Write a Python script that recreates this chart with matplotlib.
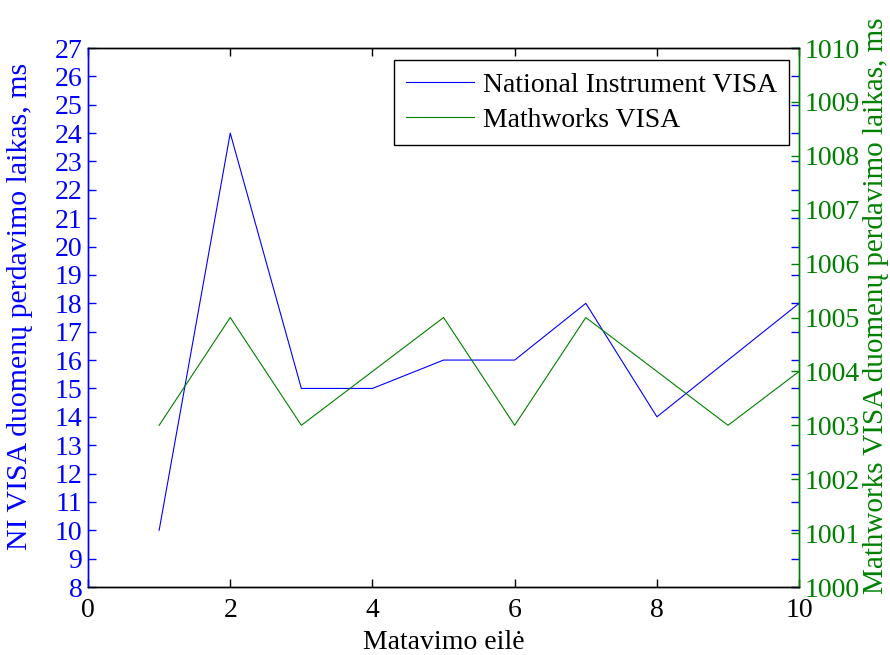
import matplotlib
matplotlib.use("Agg")
import matplotlib.pyplot as plt

# ------------------------------------------
# Data
# ------------------------------------------
run_no = [1, 2, 3, 4, 5, 6, 7, 8, 9, 10]
ni_visa_ms = [10, 24, 15, 15, 16, 16, 18, 14, 16, 18]
mw_visa_ms = [1003, 1005, 1003, 1004, 1005, 1003, 1005, 1004, 1003, 1004]

x_ticks = [0, 2, 4, 6, 8, 10]
left_ticks = list(range(8, 28))
right_ticks = list(range(1000, 1011))

blue = "#0000ff"
green = "#008000"

plt.rcParams["font.family"] = ["Liberation Serif", "DejaVu Serif"]
plt.rcParams["font.size"] = 20

fig = plt.figure(figsize=(8.9, 6.55), dpi=100)
ax1 = fig.add_axes([0.0989, 0.1038, 0.799, 0.8229])
ax2 = ax1.twinx()

l1, = ax1.plot(run_no, ni_visa_ms, color=blue, lw=0.8, label="National Instrument VISA")
l2, = ax2.plot(run_no, mw_visa_ms, color=green, lw=0.8, label="Mathworks VISA")

ax1.set_xlim(0, 10)
ax1.set_ylim(8, 27)
ax2.set_ylim(1000, 1010)
ax1.set_xticks(x_ticks)
ax1.set_yticks(left_ticks)
ax2.set_yticks(right_ticks)

# MATLAB-like inward ticks, mirrored on both sides
ax1.tick_params(axis="x", direction="in", top=True, length=6, width=1, colors="black", pad=8)
ax1.tick_params(axis="y", direction="in", right=True, length=6, width=1, colors=blue, pad=4)
ax2.tick_params(axis="y", direction="in", length=6, width=1, colors=green, pad=4)

for ax in (ax1, ax2):
    ax.spines["top"].set_color("black")
    ax.spines["bottom"].set_color("black")
    ax.spines["left"].set_color(blue)
    ax.spines["right"].set_color(green)
    for s in ax.spines.values():
        s.set_linewidth(1)

ax1.set_xlabel("Matavimo eilė", color="black", labelpad=5)
ax1.set_ylabel("NI VISA duomenų perdavimo laikas, ms", color=blue, fontsize=21.5)
ax2.set_ylabel("Mathworks VISA duomenų perdavimo laikas, ms", color=green, fontsize=21)
ax1.yaxis.set_label_coords(-0.0774, 0.520)
ax2.yaxis.set_label_coords(1.0905, 0.522)

leg = ax2.legend(handles=[l1, l2], loc="upper right", bbox_to_anchor=(0.986, 0.978),
                 borderaxespad=0, fancybox=False, framealpha=1, edgecolor="black",
                 fontsize=20, handlelength=2.45, borderpad=0.45, labelspacing=0.35,
                 handletextpad=0.3)
leg.get_frame().set_linewidth(1)

plt.savefig("out.png", dpi=100)
